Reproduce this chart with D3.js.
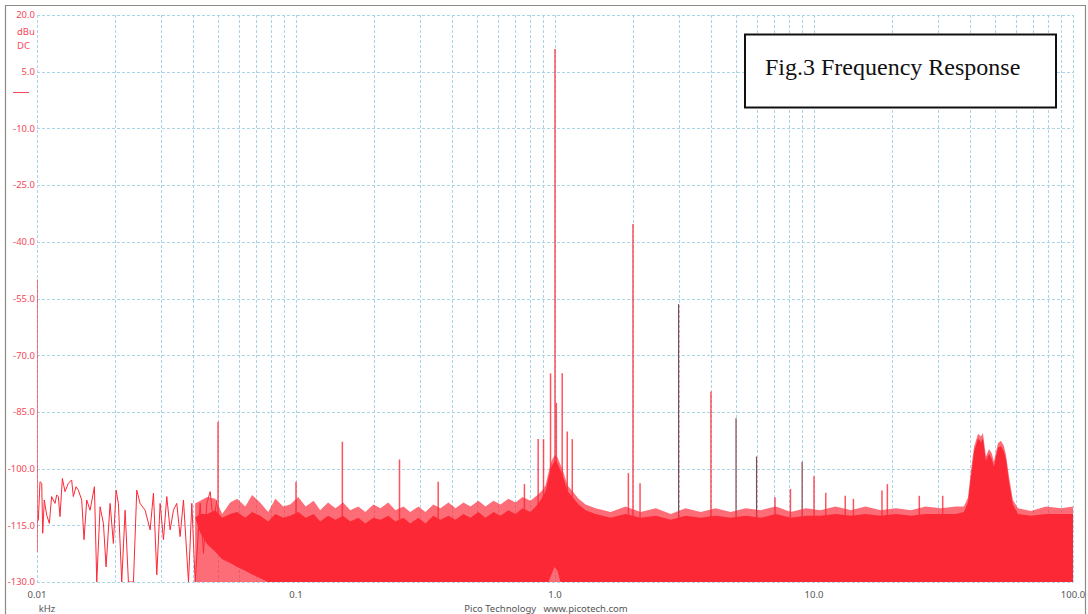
<!DOCTYPE html>
<html>
<head>
<meta charset="utf-8">
<script src="https://cdn.jsdelivr.net/npm/d3@7"></script>
<style>
  body { margin: 0; background: #fff; }
  svg { display: block; }
</style>
</head>
<body>
<div id="vis"></div>
<script>
// axis ticks
const X_TICKS = [0.01, 0.1, 1, 10, 100];
const X_TICK_LABELS = ['0.01', '0.1', '1.0', '10.0', '100.0'];
const Y_TICKS = [20, 5, -10, -25, -40, -55, -70, -85, -100, -115, -130];
const Y_TICK_LABELS = ['20.0', '5.0', '-10.0', '-25.0', '-40.0', '-55.0', '-70.0', '-85.0', '-100.0', '-115.0', '-130.0'];

// low frequency trace (kHz, dBu)
const traceFreq = [0.01, 0.01012, 0.01027, 0.01043, 0.01052, 0.01067, 0.0109, 0.01116, 0.01139, 0.01174,
  0.01191, 0.01209, 0.01227, 0.01253, 0.01283, 0.01321, 0.01361, 0.01381, 0.01415, 0.01444,
  0.01488, 0.01519, 0.01556, 0.01603, 0.01666, 0.01701, 0.01752, 0.01805, 0.01848, 0.01915,
  0.01972, 0.0202, 0.02062, 0.02124, 0.02189, 0.02254, 0.02357, 0.02428, 0.025, 0.02615,
  0.02734, 0.02816, 0.02901, 0.02988, 0.03078, 0.0317, 0.03266, 0.03364, 0.03465, 0.03569,
  0.03677, 0.03845, 0.03961, 0.0408, 0.04266, 0.04393, 0.04526, 0.04662, 0.04802, 0.04947];
const traceLevel = [-114, -113.6, -103.5, -103.9, -117.1, -108.3, -112.3, -114.5, -107.4, -109.2,
  -107.0, -107.4, -112.7, -102.6, -106.1, -103.9, -103.0, -107.4, -104.8, -105.7,
  -108.3, -118.8, -108.3, -111.0, -104.8, -130, -110.1, -114.5, -126, -109.2,
  -119.8, -105.7, -109.2, -130, -111, -130, -130, -105.7, -109.2, -111,
  -116.2, -106.5, -128.1, -109.2, -118.8, -107.4, -116.2, -111, -109.2, -118,
  -108.3, -130, -109.2, -130, -109.2, -122.4, -109.2, -106.1, -114.5, -108.3];

// noise floor: frequency, ragged top, top of dense band, bottom of dense band
const floorFreq = [0.0408, 0.0427, 0.0454, 0.0488, 0.0519, 0.0557, 0.0593, 0.0637, 0.0677, 0.0727, 0.0781, 0.0832,
  0.0893, 0.095, 0.102, 0.109, 0.117, 0.124, 0.133, 0.142, 0.152, 0.162,
  0.174, 0.185, 0.199, 0.212, 0.227, 0.242, 0.26, 0.276, 0.297, 0.316,
  0.339, 0.361, 0.388, 0.413, 0.443, 0.472, 0.506, 0.539, 0.579, 0.616,
  0.661, 0.704, 0.749, 0.804, 0.856, 0.887, 0.919, 0.944, 0.969, 0.996,
  1.022, 1.05, 1.079, 1.118, 1.168, 1.233, 1.312, 1.434,
  1.639, 1.873, 2.14, 2.45, 2.8, 3.19, 3.65, 4.17, 4.77, 5.45,
  6.23, 7.12, 8.13, 9.29, 10.6, 12.1, 13.9, 15.8, 18.1, 20.7,
  23.7, 27.0, 30.9, 35.3,
  37.9, 39.3, 40.4, 41.5, 43.0, 44.1, 44.9, 46.1, 47.4, 48.6,
  49.5, 51.3, 52.7, 54.1, 55.1, 56.6, 58.6, 61.3, 68.8, 78.7, 89.9, 100];
const floorPeak = [-109.2, -108.5, -107.5, -108, -112, -109, -108, -110, -107, -109, -111.5, -108,
  -110, -109.5, -107.5, -110, -108.5, -111, -109, -110.5, -109, -111,
  -110, -111.5, -109.5, -110.5, -109, -111, -110, -111.5, -110, -111.5,
  -109.5, -110.5, -109, -110.5, -109, -110, -108.5, -110, -108.5, -109.5,
  -108, -109, -107.5, -108.5, -107, -106, -104.5, -101, -98, -96.5,
  -97, -99, -101, -104.5, -106, -108, -109.5, -110.5,
  -111.5, -110, -111.5, -110.5, -112, -110.5, -111.5, -110.5, -111.5, -110.5,
  -111, -110, -111.5, -110.5, -111, -110, -111, -110, -111, -110.5,
  -111, -110, -110.5, -110,
  -110, -107.7, -100.4, -94.2, -90.8, -91.5, -90.6, -96.8, -94.8, -96,
  -98.2, -93.3, -92.6, -94, -96.4, -102.1, -108.3, -110.5, -111.2, -110, -110.5, -110];
const floorSolid = [-113, -112, -112, -111, -113, -112, -111.5, -113, -111.5, -112.5, -114, -112,
  -113, -112.5, -111.5, -113, -112, -114, -112.5, -113.5, -112.5, -114,
  -113, -114.5, -113, -113.5, -112.5, -114, -113, -114.5, -113, -114.5,
  -112.5, -113.5, -112.5, -113.5, -112, -113, -111.5, -113, -111.5, -112.5,
  -111, -112, -110.5, -111.5, -109.5, -108, -106, -102.5, -99.5, -98,
  -98.5, -100.5, -102.5, -106, -107.5, -109.5, -111, -112,
  -113, -112, -113, -112.5, -113.5, -112.5, -113, -112.5, -113, -112.5,
  -113, -112, -113, -112.5, -112.5, -112, -112.5, -112, -112.5, -112,
  -112.5, -112, -112, -112,
  -111.5, -109, -102, -95.5, -92, -93, -92, -98, -96, -97.5,
  -99.5, -94.5, -94, -95.5, -97.5, -103.5, -109.5, -112, -112.5, -112, -112, -112];
const floorBase = [-113, -117, -120, -122, -124, -125, -126, -127, -128, -129, -130, -130,
  -130, -130, -130, -130, -130, -130, -130, -130, -130, -130,
  -130, -130, -130, -130, -130, -130, -130, -130, -130, -130,
  -130, -130, -130, -130, -130, -130, -130, -130, -130, -130,
  -130, -130, -130, -130, -130, -130, -130, -130, -128, -126,
  -127, -130, -130, -130, -130, -130, -130, -130,
  -130, -130, -130, -130, -130, -130, -130, -130, -130, -130,
  -130, -130, -130, -130, -130, -130, -130, -130, -130, -130,
  -130, -130, -130, -130,
  -130, -130, -130, -130, -130, -130, -130, -130, -130, -130,
  -130, -130, -130, -130, -130, -130, -130, -130, -130, -130, -130, -130];

// discrete tones (kHz, dBu)
const spikeFreq = [0.01, 0.05, 0.1, 0.151, 0.251, 0.354, 0.762, 0.861, 0.903, 0.961,
  1.0, 1.012, 1.066, 1.115, 1.166, 1.92, 2.0, 2.13, 4.0, 7.07,
  8.11, 10.0, 11.1, 13.2, 14.2, 18.3, 19.2, 25.5, 31.4];
const spikeLevel = [-50, -87.6, -103.5, -92.9, -97.6, -103.5, -104.1, -92.2, -92.2, -74.8,
  11, -82.6, -74.8, -90.2, -92.2, -101.2, -35.3, -103.9, -79.6, -107.6,
  -105.4, -102, -106.4, -107.2, -108, -105.8, -104.1, -107.2, -107.2];
const darkSpikeFreq = [3.0, 5.0, 6.0, 9.0];
const darkSpikeLevel = [-56.5, -86.7, -96.8, -98.2];

const TITLE = 'Fig.3 Frequency Response';

// setting up the basics
const FRAME_WIDTH = 1088;
const FRAME_HEIGHT = 614;
const PLOT = {left: 37, right: 1073, top: 15, bottom: 582};
const RED = '#fc2836';
const SPIKE_BASE = -122;

const SVG = d3.select('#vis')
  .append('svg')
    .attr('width', FRAME_WIDTH)
    .attr('height', FRAME_HEIGHT);

const X_SCALE = d3.scaleLog()
  .domain([0.01, 100])
  .range([PLOT.left, PLOT.right]);

const Y_SCALE = d3.scaleLinear()
  .domain([-130, 20])
  .range([PLOT.bottom, PLOT.top]);

SVG.append('clipPath').attr('id', 'plot-clip')
  .append('rect')
    .attr('x', PLOT.left).attr('y', PLOT.top)
    .attr('width', PLOT.right - PLOT.left)
    .attr('height', PLOT.bottom - PLOT.top);

// grid lines, dashed light blue
const GRID = SVG.append('g')
  .attr('stroke', '#a9d5e6')
  .attr('stroke-width', 1)
  .attr('stroke-dasharray', '3,2');

const xGrid = X_SCALE.ticks();   // 1..9 per decade
GRID.selectAll('.vgrid')
  .data(xGrid)
  .enter()
  .append('line')
    .attr('x1', (d) => Math.round(X_SCALE(d)) + 0.5)
    .attr('x2', (d) => Math.round(X_SCALE(d)) + 0.5)
    .attr('y1', PLOT.top)
    .attr('y2', PLOT.bottom);

GRID.selectAll('.hgrid')
  .data(Y_TICKS)
  .enter()
  .append('line')
    .attr('x1', PLOT.left)
    .attr('x2', PLOT.right)
    .attr('y1', (d) => Math.round(Y_SCALE(d)) + 0.5)
    .attr('y2', (d) => Math.round(Y_SCALE(d)) + 0.5);

const PLOT_G = SVG.append('g').attr('clip-path', 'url(#plot-clip)');

// tones go first so the floor covers their feet
const spikeData = spikeFreq.map((f, i) => ({f: f, v: spikeLevel[i]}));
PLOT_G.selectAll('.spike')
  .data(spikeData)
  .enter()
  .append('line')
    .attr('x1', (d) => X_SCALE(d.f))
    .attr('x2', (d) => X_SCALE(d.f))
    .attr('y1', Y_SCALE(SPIKE_BASE))
    .attr('y2', (d) => Y_SCALE(d.v))
    .attr('stroke', RED)
    .attr('stroke-opacity', 0.8)
    .attr('stroke-width', 1.5);

const darkData = darkSpikeFreq.map((f, i) => ({f: f, v: darkSpikeLevel[i]}));
PLOT_G.selectAll('.dark-spike')
  .data(darkData)
  .enter()
  .append('line')
    .attr('x1', (d) => X_SCALE(d.f))
    .attr('x2', (d) => X_SCALE(d.f))
    .attr('y1', Y_SCALE(SPIKE_BASE))
    .attr('y2', (d) => Y_SCALE(d.v))
    .attr('stroke', '#8a4650')
    .attr('stroke-width', 1.2);

// low frequency trace
const traceData = traceFreq.map((f, i) => ({f: f, v: traceLevel[i]}));
PLOT_G.append('path')
  .datum(traceData)
  .attr('fill', 'none')
  .attr('stroke', RED)
  .attr('stroke-width', 1)
  .attr('d', d3.line()
    .x((d) => X_SCALE(d.f))
    .y((d) => Y_SCALE(d.v)));

const floorData = floorFreq.map((f, i) => ({
  f: f, peak: floorPeak[i], solid: floorSolid[i], base: floorBase[i]
}));

// broken part of the noise floor
PLOT_G.append('path')
  .datum(floorData)
  .attr('fill', RED)
  .attr('fill-opacity', 0.68)
  .attr('d', d3.area()
    .x((d) => X_SCALE(d.f))
    .y0(Y_SCALE(-130))
    .y1((d) => Y_SCALE(d.peak)));

// dense part of the noise floor
PLOT_G.append('path')
  .datum(floorData)
  .attr('fill', RED)
  .attr('d', d3.area()
    .x((d) => X_SCALE(d.f))
    .y0((d) => Y_SCALE(d.base))
    .y1((d) => Y_SCALE(d.solid)));

// y axis labels
SVG.append('g')
  .selectAll('text')
  .data(Y_TICKS)
  .enter()
  .append('text')
    .attr('x', 35)
    .attr('y', (d) => Y_SCALE(d))
    .attr('dy', '0.35em')
    .attr('text-anchor', 'end')
    .attr('font-family', 'Noto Sans, sans-serif')
    .attr('font-size', '9.5px')
    .attr('fill', '#f5475a')
    .text((d, i) => Y_TICK_LABELS[i]);

SVG.append('text')
  .attr('x', 17).attr('y', 32).attr('dy', '0.35em')
  .attr('font-family', 'Noto Sans, sans-serif')
  .attr('font-size', '9.5px')
  .attr('fill', '#f5475a')
  .text('dBu');
SVG.append('text')
  .attr('x', 17).attr('y', 46).attr('dy', '0.35em')
  .attr('font-family', 'Noto Sans, sans-serif')
  .attr('font-size', '9.5px')
  .attr('fill', '#f5475a')
  .text('DC');
SVG.append('line')
  .attr('x1', 13).attr('x2', 29)
  .attr('y1', 92.5).attr('y2', 92.5)
  .attr('stroke', '#f5475a')
  .attr('stroke-width', 1);

// x axis labels
SVG.append('g')
  .selectAll('text')
  .data(X_TICKS)
  .enter()
  .append('text')
    .attr('x', (d) => X_SCALE(d))
    .attr('y', 595)
    .attr('dy', '0.35em')
    .attr('text-anchor', 'middle')
    .attr('font-family', 'Noto Sans, sans-serif')
    .attr('font-size', '9.5px')
    .attr('fill', '#555')
    .text((d, i) => X_TICK_LABELS[i]);

SVG.append('text')
  .attr('x', 47).attr('y', 609).attr('dy', '0.35em')
  .attr('text-anchor', 'middle')
  .attr('font-family', 'Noto Sans, sans-serif')
  .attr('font-size', '9.5px')
  .attr('fill', '#555')
  .text('kHz');

SVG.append('text')
  .attr('x', 546).attr('y', 609).attr('dy', '0.35em')
  .attr('text-anchor', 'middle')
  .attr('font-family', 'Noto Sans, sans-serif')
  .attr('font-size', '9.5px')
  .attr('fill', '#555')
  .attr('xml:space', 'preserve')
  .text('Pico Technology   www.picotech.com');

// title box
SVG.append('rect')
  .attr('x', 745).attr('y', 34.5)
  .attr('width', 311).attr('height', 73)
  .attr('fill', '#fff')
  .attr('stroke', '#111')
  .attr('stroke-width', 2);
SVG.append('text')
  .attr('x', 765).attr('y', 75)
  .attr('font-family', 'Liberation Serif, Times New Roman, serif')
  .attr('font-size', '24px')
  .attr('fill', '#111')
  .text(TITLE);

// outer frame
SVG.append('path')
  .attr('d', 'M5.5,614 V5.5 H1085.5 V614')
  .attr('fill', 'none')
  .attr('stroke', '#8f8a84')
  .attr('stroke-width', 1.2);
</script>
</body>
</html>
